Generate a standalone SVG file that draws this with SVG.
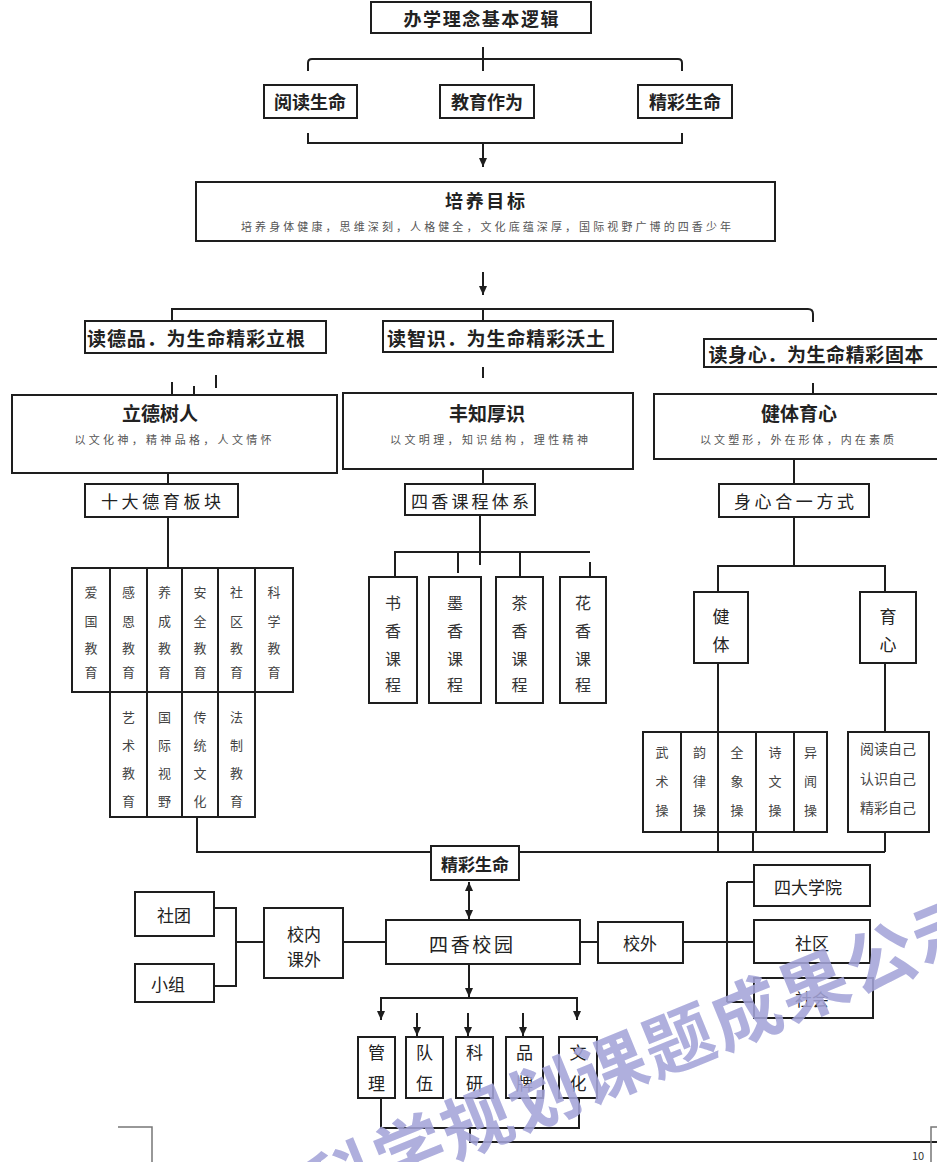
<svg xmlns="http://www.w3.org/2000/svg" width="937" height="1162" viewBox="0 0 937 1162">
<style>
.b{fill:#fff;stroke:#1e1e1e;stroke-width:2}
.l{fill:none;stroke:#1e1e1e;stroke-width:2}
.a{fill:none;stroke:#1e1e1e;stroke-width:2;marker-end:url(#ah)}
.t{font-family:"Noto Sans CJK SC","Noto Sans",sans-serif;fill:#222;text-anchor:middle;dominant-baseline:central}
.h{font-weight:700;font-size:18px}
.s{font-size:11px;fill:#555}
.m{font-size:17px}
.c{font-size:13px;fill:#444}
.v{font-size:16px;fill:#333}
.pg{fill:none;stroke:#777;stroke-width:1.5}
</style>
<defs>
<marker id="ah" markerUnits="userSpaceOnUse" markerWidth="10" markerHeight="10" refX="9" refY="4" orient="auto-start-reverse"><path d="M0,0 L9,4 L0,8 z" fill="#1e1e1e"/></marker>
</defs>
<rect width="937" height="1162" fill="#fff"/>

<g id="connectors">
<path class="l" d="M483,47 V71"/>
<path class="l" d="M308,71 V63 Q308,59 312,59 H678 Q682,59 682,63 V71"/>
<path class="l" d="M308,133 V143 H682 V133"/>
<path class="a" d="M483,143 V167"/>
<path class="a" d="M483,272 V295"/>
<path class="l" d="M172,321 V309 H808 Q813,309 813,314 V322"/>
<path class="l" d="M483,309 V321"/>
<path class="l" d="M172,382 V394 M194,386 V395 M216,375 V388 M483,367 V378 M813,383 V394"/>
<path class="l" d="M168,437 V484 M168,517 V568"/>
<path class="l" d="M483,437 V484 M480,515 V565"/>
<path class="l" d="M395,577 V552 H590 M458,552 V573 M520,552 V577 M590,562 V577"/>
<path class="l" d="M794,442 V484 M794,517 V566"/>
<path class="l" d="M718,592 V566 H885 V592"/>
<path class="l" d="M718,663 V852 M885,663 V732 M885,832 V852 M753,832 V852 M519,852 H885"/>
<path class="l" d="M197,800 V852 H431"/>
<path class="l" d="M469,882 V919" style="marker-start:url(#ah);marker-end:url(#ah)"/>
<path class="a" d="M469,964 V997"/>
<path class="l" d="M381,1020 V998 H577 V1020" style="marker-start:url(#ah);marker-end:url(#ah)"/>
<path class="a" d="M417,1013 V1036"/>
<path class="a" d="M468,1013 V1036"/>
<path class="a" d="M523,1013 V1036"/>
<path class="l" d="M381,1098 V1128 H579 V1098 M470,1128 V1142 H937"/>
<path class="l" d="M214,908 H236 V986 H214 M236,942 H264 M343,942 H386"/>
<path class="l" d="M580,942 H598 M683,942 H727 M727,882 V1002 M727,882 H754 M727,942 H754 M727,1002 H754"/>
</g>

<g id="n-top"><rect class="b" x="371" y="2" width="220" height="31"/><text class="t h" x="481" y="18" textLength="155">办学理念基本逻辑</text></g>
<g id="n-yuedu"><rect class="b" x="264" y="85" width="93" height="33"/><text class="t h" x="310" y="101">阅读生命</text></g>
<g id="n-jiaoyu"><rect class="b" x="440" y="85" width="94" height="33"/><text class="t h" x="487" y="101">教育作为</text></g>
<g id="n-jingcai-top"><rect class="b" x="638" y="85" width="94" height="33"/><text class="t h" x="685" y="101">精彩生命</text></g>
<g id="n-peiyang"><rect class="b" x="196" y="182" width="579" height="59"/><text class="t h" x="485" y="200" textLength="80">培养目标</text><text class="t s" x="486" y="226" textLength="490" lengthAdjust="spacing">培养身体健康，思维深刻，人格健全，文化底蕴深厚，国际视野广博的四香少年</text></g>

<g id="n-dep"><rect class="b" x="85" y="321" width="241" height="32"/><text class="t h" x="196" y="337" style="font-size:19px" textLength="218">读德品．为生命精彩立根</text></g>
<g id="n-zhi"><rect class="b" x="383" y="321" width="230" height="31"/><text class="t h" x="496" y="337" style="font-size:19px" textLength="218">读智识．为生命精彩沃土</text></g>
<g id="n-shen"><rect class="b" x="704" y="339" width="240" height="28"/><text class="t h" x="816" y="353" style="font-size:19px" textLength="215">读身心．为生命精彩固本</text></g>

<g id="n-lide"><rect class="b" x="12" y="395" width="325" height="78"/><text class="t h" x="160" y="412" style="font-size:19px">立德树人</text><text class="t s" x="173" y="439" textLength="197">以文化神，精神品格，人文情怀</text></g>
<g id="n-fengzhi"><rect class="b" x="343" y="393" width="290" height="76"/><text class="t h" x="487" y="412" style="font-size:19px">丰知厚识</text><text class="t s" x="489" y="439" textLength="198">以文明理，知识结构，理性精神</text></g>
<g id="n-jianti"><rect class="b" x="654" y="394" width="290" height="65"/><text class="t h" x="799" y="412" style="font-size:19px">健体育心</text><text class="t s" x="797" y="439" textLength="194">以文塑形，外在形体，内在素质</text></g>

<g id="n-shida"><rect class="b" x="85" y="484" width="153" height="33"/><text class="t m" x="161" y="500" textLength="120">十大德育板块</text></g>
<g id="n-sixiang-sys"><rect class="b" x="405" y="484" width="130" height="31"/><text class="t m" x="470" y="500" textLength="118">四香课程体系</text></g>
<g id="n-shenxin"><rect class="b" x="719" y="484" width="150" height="33"/><text class="t m" x="794" y="500" textLength="120">身心合一方式</text></g>

<g id="n-aiguo"><rect class="b" x="72" y="568" width="38" height="124"/><text class="t c"><tspan x="91" y="591">爱</tspan><tspan x="91" y="620">国</tspan><tspan x="91" y="647">教</tspan><tspan x="91" y="671">育</tspan></text></g>
<g id="n-ganen"><rect class="b" x="110" y="568" width="37" height="124"/><text class="t c"><tspan x="128.5" y="591">感</tspan><tspan x="128.5" y="620">恩</tspan><tspan x="128.5" y="647">教</tspan><tspan x="128.5" y="671">育</tspan></text></g>
<g id="n-yangcheng"><rect class="b" x="147" y="568" width="35" height="124"/><text class="t c"><tspan x="164.5" y="591">养</tspan><tspan x="164.5" y="620">成</tspan><tspan x="164.5" y="647">教</tspan><tspan x="164.5" y="671">育</tspan></text></g>
<g id="n-anquan"><rect class="b" x="182" y="568" width="36" height="124"/><text class="t c"><tspan x="200" y="591">安</tspan><tspan x="200" y="620">全</tspan><tspan x="200" y="647">教</tspan><tspan x="200" y="671">育</tspan></text></g>
<g id="n-shequ-edu"><rect class="b" x="218" y="568" width="37" height="124"/><text class="t c"><tspan x="236.5" y="591">社</tspan><tspan x="236.5" y="620">区</tspan><tspan x="236.5" y="647">教</tspan><tspan x="236.5" y="671">育</tspan></text></g>
<g id="n-kexue"><rect class="b" x="255" y="568" width="38" height="124"/><text class="t c"><tspan x="274" y="591">科</tspan><tspan x="274" y="620">学</tspan><tspan x="274" y="647">教</tspan><tspan x="274" y="671">育</tspan></text></g>
<g id="n-yishu"><rect class="b" x="110" y="692" width="37" height="125"/><text class="t c"><tspan x="128.5" y="716">艺</tspan><tspan x="128.5" y="744">术</tspan><tspan x="128.5" y="772">教</tspan><tspan x="128.5" y="800">育</tspan></text></g>
<g id="n-guoji"><rect class="b" x="147" y="692" width="35" height="125"/><text class="t c"><tspan x="164.5" y="716">国</tspan><tspan x="164.5" y="744">际</tspan><tspan x="164.5" y="772">视</tspan><tspan x="164.5" y="800">野</tspan></text></g>
<g id="n-chuantong"><rect class="b" x="182" y="692" width="36" height="125"/><text class="t c"><tspan x="200" y="716">传</tspan><tspan x="200" y="744">统</tspan><tspan x="200" y="772">文</tspan><tspan x="200" y="800">化</tspan></text></g>
<g id="n-fazhi"><rect class="b" x="218" y="692" width="37" height="125"/><text class="t c"><tspan x="236.5" y="716">法</tspan><tspan x="236.5" y="744">制</tspan><tspan x="236.5" y="772">教</tspan><tspan x="236.5" y="800">育</tspan></text></g>

<g id="n-shuxiang"><rect class="b" x="369" y="577" width="48" height="126"/><text class="t v"><tspan x="393" y="602">书</tspan><tspan x="393" y="630">香</tspan><tspan x="393" y="658">课</tspan><tspan x="393" y="684">程</tspan></text></g>
<g id="n-moxiang"><rect class="b" x="429" y="577" width="52" height="126"/><text class="t v"><tspan x="455" y="602">墨</tspan><tspan x="455" y="630">香</tspan><tspan x="455" y="658">课</tspan><tspan x="455" y="684">程</tspan></text></g>
<g id="n-chaxiang"><rect class="b" x="496" y="577" width="47" height="126"/><text class="t v"><tspan x="519.5" y="602">茶</tspan><tspan x="519.5" y="630">香</tspan><tspan x="519.5" y="658">课</tspan><tspan x="519.5" y="684">程</tspan></text></g>
<g id="n-huaxiang"><rect class="b" x="560" y="577" width="46" height="126"/><text class="t v"><tspan x="583" y="602">花</tspan><tspan x="583" y="630">香</tspan><tspan x="583" y="658">课</tspan><tspan x="583" y="684">程</tspan></text></g>

<g id="n-jianti2"><rect class="b" x="694" y="592" width="54" height="71"/><text class="t m"><tspan x="721" y="615">健</tspan><tspan x="721" y="643">体</tspan></text></g>
<g id="n-yuxin"><rect class="b" x="860" y="592" width="56" height="71"/><text class="t m"><tspan x="888" y="615">育</tspan><tspan x="888" y="643">心</tspan></text></g>

<g id="n-wushu"><rect class="b" x="643" y="732" width="38" height="100"/><text class="t c"><tspan x="662" y="751">武</tspan><tspan x="662" y="780">术</tspan><tspan x="662" y="809">操</tspan></text></g>
<g id="n-yunlv"><rect class="b" x="681" y="732" width="37" height="100"/><text class="t c"><tspan x="699.5" y="751">韵</tspan><tspan x="699.5" y="780">律</tspan><tspan x="699.5" y="809">操</tspan></text></g>
<g id="n-quanxiang"><rect class="b" x="718" y="732" width="38" height="100"/><text class="t c"><tspan x="737" y="751">全</tspan><tspan x="737" y="780">象</tspan><tspan x="737" y="809">操</tspan></text></g>
<g id="n-shiwen"><rect class="b" x="756" y="732" width="38" height="100"/><text class="t c"><tspan x="775" y="751">诗</tspan><tspan x="775" y="780">文</tspan><tspan x="775" y="809">操</tspan></text></g>
<g id="n-yiwen"><rect class="b" x="794" y="732" width="33" height="100"/><text class="t c"><tspan x="810.5" y="751">异</tspan><tspan x="810.5" y="780">闻</tspan><tspan x="810.5" y="809">操</tspan></text></g>
<g id="n-ziji"><rect class="b" x="848" y="732" width="81" height="100"/><text class="t c" style="font-size:14px"><tspan x="888" y="748">阅读自己</tspan><tspan x="888" y="778">认识自己</tspan><tspan x="888" y="807">精彩自己</tspan></text></g>

<g id="n-jingcai-bottom"><rect class="b" x="431" y="846" width="88" height="34"/><text class="t h" x="475" y="863" style="font-size:17px">精彩生命</text></g>
<g id="n-sixiang-campus"><rect class="b" x="386" y="920" width="194" height="44"/><text class="t" x="471" y="943" style="font-size:19px" textLength="84">四香校园</text></g>
<g id="n-xiaonei"><rect class="b" x="264" y="908" width="79" height="70"/><text class="t m"><tspan x="304" y="933">校内</tspan><tspan x="304" y="958">课外</tspan></text></g>
<g id="n-shetuan"><rect class="b" x="135" y="892" width="79" height="44"/><text class="t m" x="174" y="914">社团</text></g>
<g id="n-xiaozu"><rect class="b" x="135" y="964" width="79" height="38"/><text class="t m" x="168" y="983">小组</text></g>
<g id="n-xiaowai"><rect class="b" x="598" y="922" width="85" height="41"/><text class="t m" x="640" y="942">校外</text></g>
<g id="n-sida"><rect class="b" x="754" y="865" width="116" height="41"/><text class="t m" x="808" y="886">四大学院</text></g>
<g id="n-shequ"><rect class="b" x="754" y="920" width="116" height="43"/><text class="t m" x="812" y="942">社区</text></g>
<g id="n-shehui"><rect class="b" x="754" y="978" width="119" height="40"/><text class="t m" x="812" y="998">社会</text></g>

<g id="n-guanli"><rect class="b" x="358" y="1037" width="37" height="61"/><text class="t m"><tspan x="376.5" y="1051">管</tspan><tspan x="376.5" y="1082">理</tspan></text></g>
<g id="n-duiwu"><rect class="b" x="406" y="1037" width="37" height="61"/><text class="t m"><tspan x="424.5" y="1051">队</tspan><tspan x="424.5" y="1082">伍</tspan></text></g>
<g id="n-keyan"><rect class="b" x="456" y="1037" width="37" height="61"/><text class="t m"><tspan x="474.5" y="1051">科</tspan><tspan x="474.5" y="1082">研</tspan></text></g>
<g id="n-pinpai"><rect class="b" x="506" y="1037" width="37" height="61"/><text class="t m"><tspan x="524.5" y="1051">品</tspan><tspan x="524.5" y="1082">牌</tspan></text></g>
<g id="n-wenhua"><rect class="b" x="559" y="1037" width="38" height="61"/><text class="t m"><tspan x="578" y="1051">文</tspan><tspan x="578" y="1082">化</tspan></text></g>

<g id="page-marks">
<path class="pg" d="M118,1127 H152 V1162 M937,1127 H931 V1162"/>
<text class="t" x="918" y="1155" style="font-size:11px;fill:#333">10</text>
</g>

<g id="watermark">
<text transform="translate(408,1146) rotate(-22.2)" x="-107.6" y="0" style="font-family:'Noto Sans CJK SC',sans-serif;font-size:70px;font-weight:700;letter-spacing:2.6px;fill:#a4a4d8;fill-opacity:0.88;dominant-baseline:central">科学规划课题成果公示</text>
</g>
</svg>
